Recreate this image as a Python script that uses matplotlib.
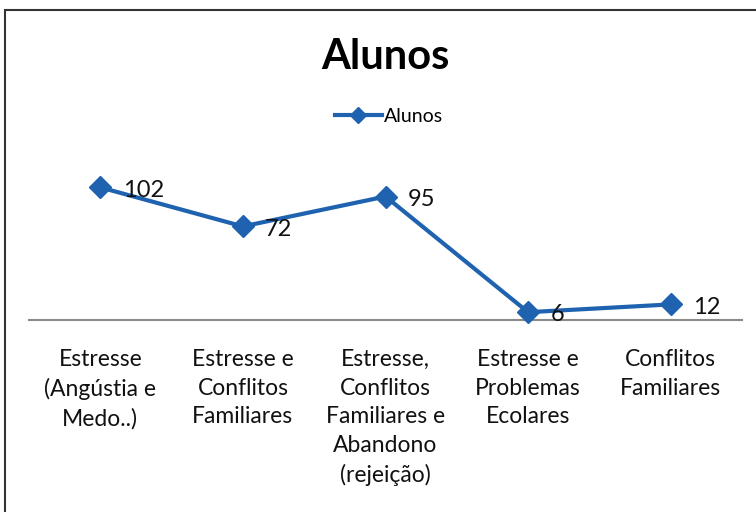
import matplotlib
matplotlib.use("Agg")
import matplotlib.pyplot as plt
from matplotlib.patches import Rectangle

categories = [
    "Estresse\n(Angústia e\nMedo..)",
    "Estresse e\nConflitos\nFamiliares",
    "Estresse,\nConflitos\nFamiliares e\nAbandono\n(rejeição)",
    "Estresse e\nProblemas\nEcolares",
    "Conflitos\nFamiliares",
]
values = [102, 72, 95, 6, 12]
series_name = "Alunos"
title = "Alunos"

plt.rcParams['font.family'] = ['Lato', 'DejaVu Sans']

W, H = 756, 512
fig = plt.figure(figsize=(W / 100, H / 100), dpi=100)
fig.patch.set_facecolor('white')

left, right = 29 / W, 742 / W
bottom, top = 1 - 320 / H, 1 - 164 / H
ax = fig.add_axes([left, bottom, right - left, top - bottom])

color = '#1f63b0'
x = list(range(len(values)))
ax.plot(x, values, color=color, lw=3, marker='D', markersize=11,
        label=series_name, solid_joinstyle='round', clip_on=False, zorder=3)

for xi, v in zip(x, values):
    ax.annotate(str(v), (xi, v), xytext=(16, -2), textcoords='offset points',
                ha='left', va='center', fontsize=17, color='#111111', zorder=4)

ax.set_xlim(-0.5, len(values) - 0.5)
ax.set_ylim(0, 120)
ax.set_xticks(x)
ax.set_xticklabels(categories, fontsize=16.5, linespacing=1.45, color='#111111')
ax.tick_params(axis='x', length=0, pad=21)
ax.set_yticks([])
for s in ['left', 'right', 'top']:
    ax.spines[s].set_visible(False)
ax.spines['bottom'].set_color('#8a8a8a')
ax.spines['bottom'].set_linewidth(1.5)
ax.patch.set_alpha(0)

fig.text(385 / W, 1 - 57 / H, title, ha='center', va='center',
         fontsize=30, fontweight='bold', color='#000000')

leg = fig.legend(loc='center', bbox_to_anchor=(389 / W, 1 - 116 / H),
                 frameon=False, fontsize=14, handlelength=2.4,
                 handletextpad=0.1, markerscale=0.7)

fig.add_artist(Rectangle((5 / W, -0.1), 2, (1 - 10 / H) + 0.1, fill=False,
                         edgecolor='#333333', lw=1.5, transform=fig.transFigure))

fig.savefig('out.png', dpi=100, facecolor='white')
